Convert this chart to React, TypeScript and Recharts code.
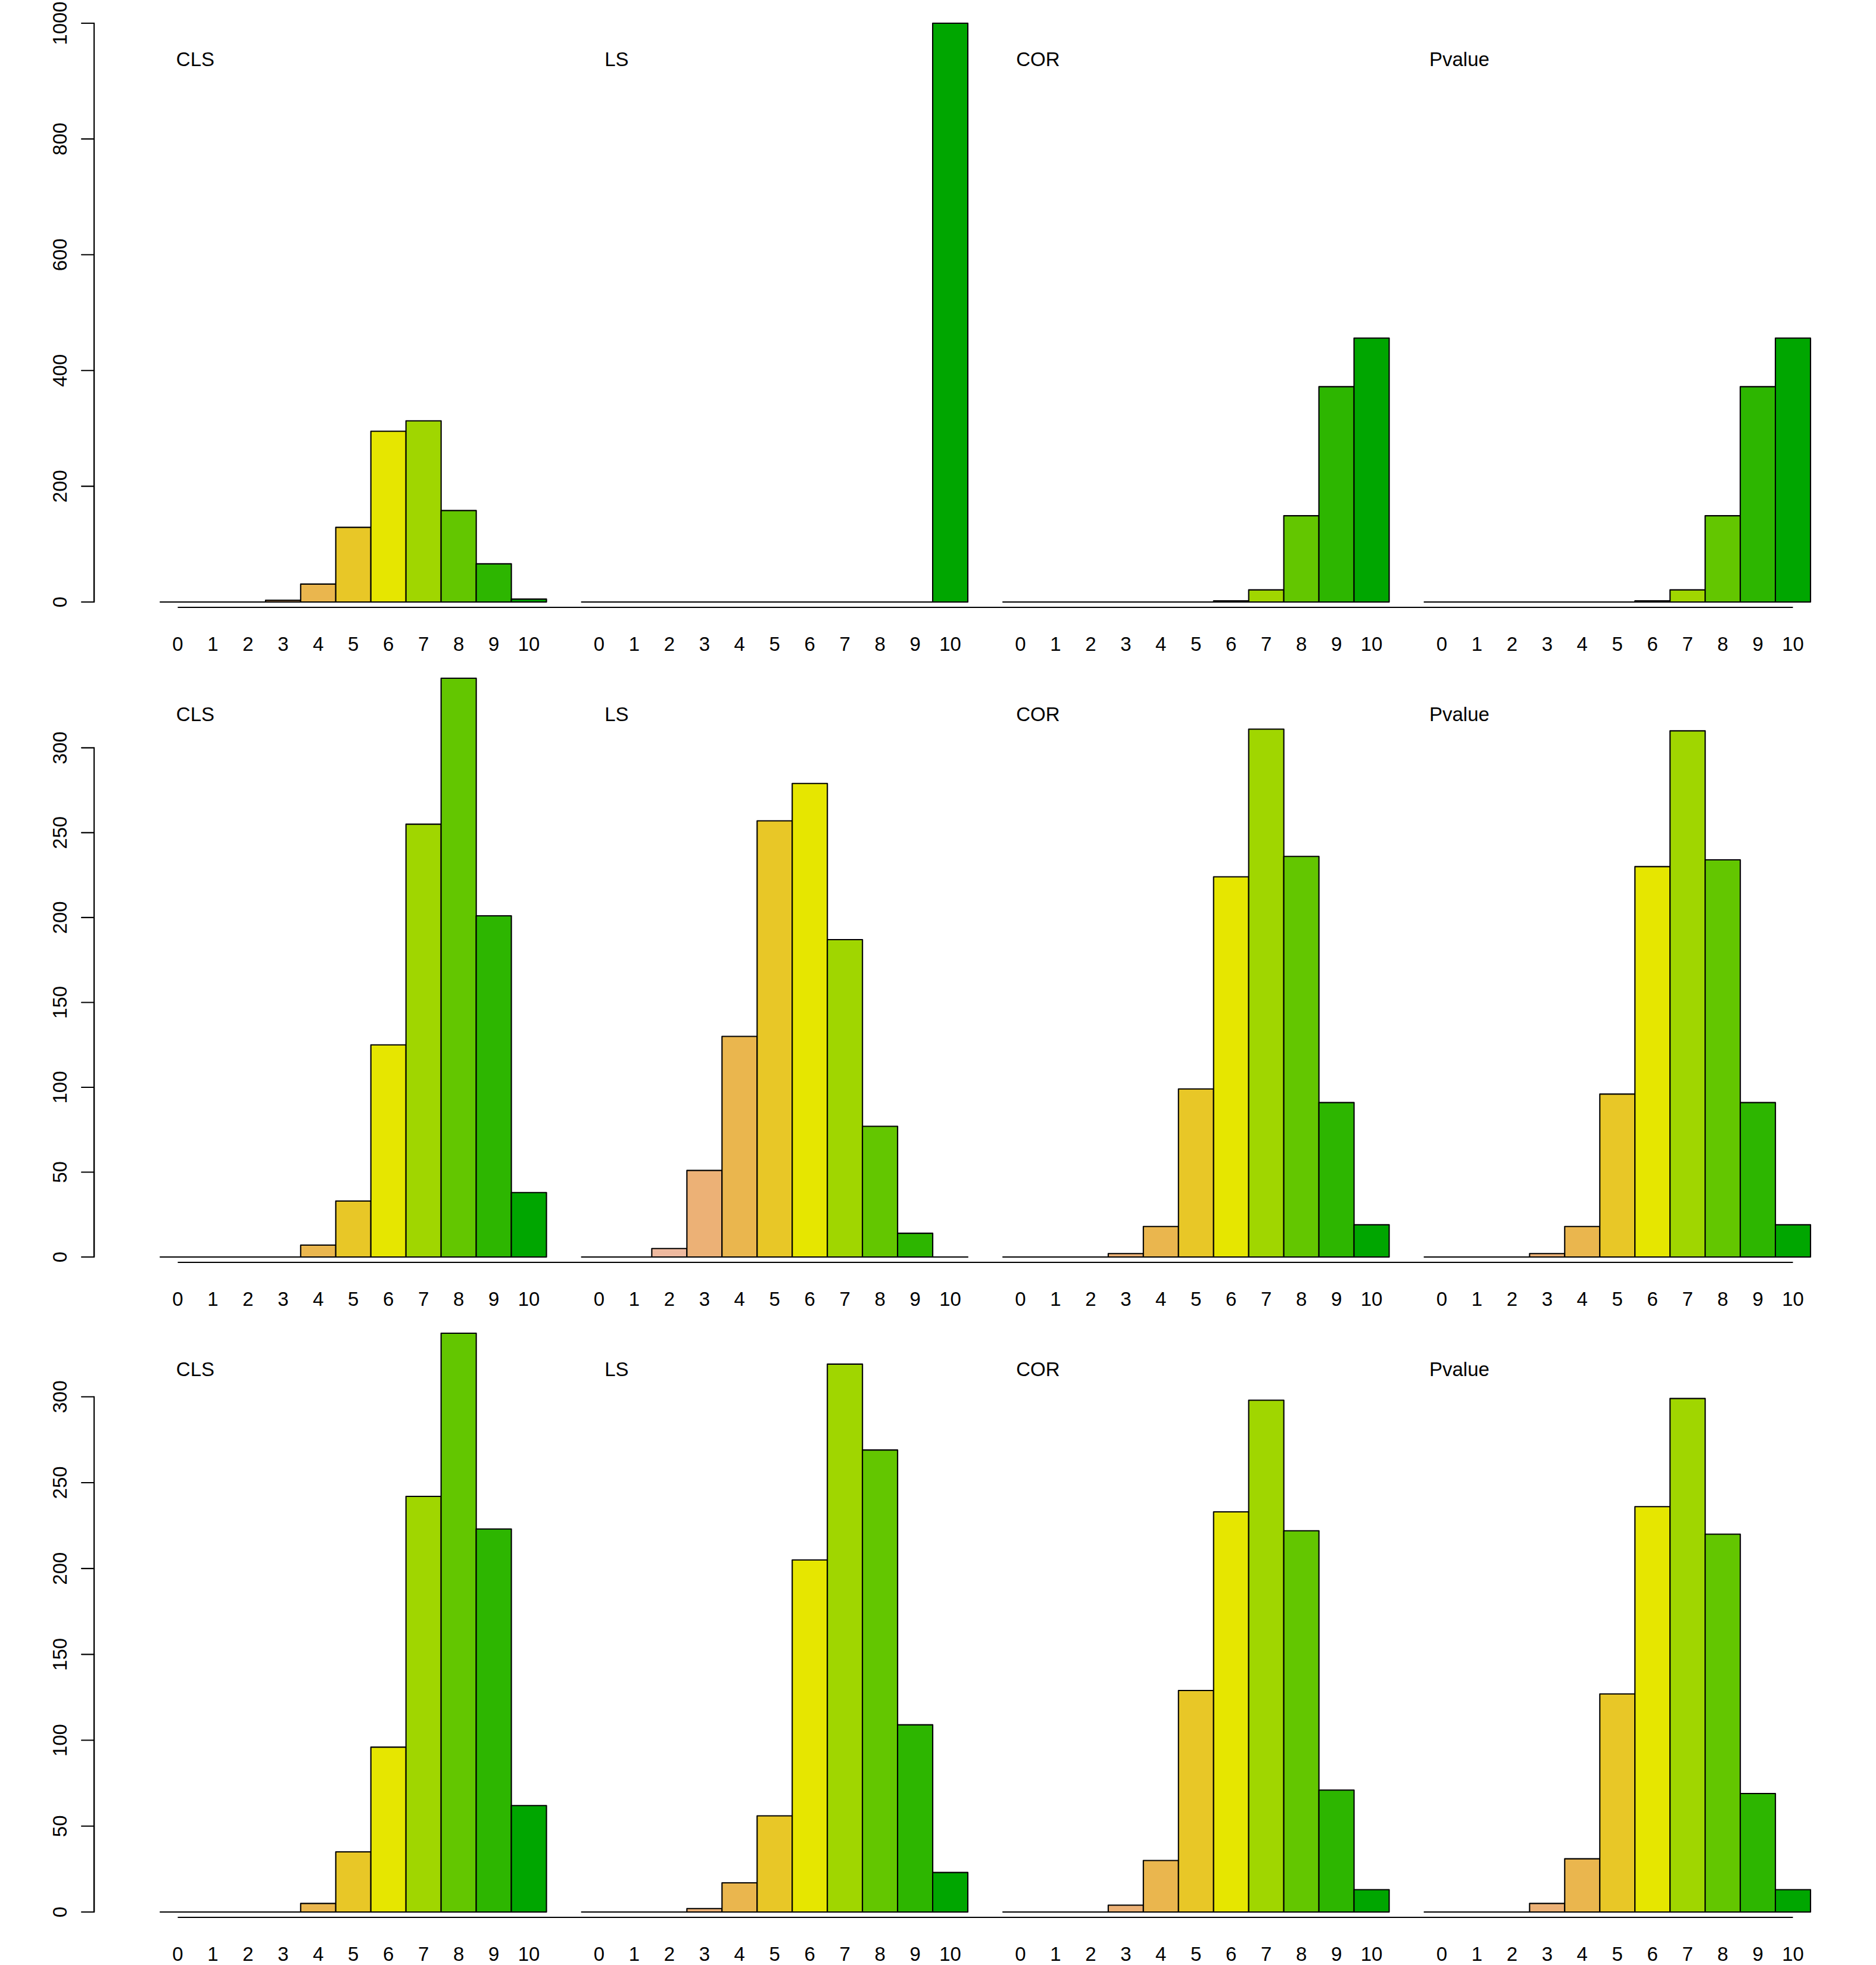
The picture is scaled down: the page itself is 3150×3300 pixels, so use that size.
import React from "react";
import { BarChart, Bar, XAxis, YAxis, ReferenceLine } from "recharts";

// ---------- data ----------
const SCORES = [0, 1, 2, 3, 4, 5, 6, 7, 8, 9, 10];
const PANELS = ["CLS", "LS", "COR", "Pvalue"];

const ROW1_CLS = [0, 0, 0, 3, 31, 129, 295, 313, 158, 66, 5];
const ROW1_LS = [0, 0, 0, 0, 0, 0, 0, 0, 0, 0, 1000];
const ROW1_COR = [0, 0, 0, 0, 0, 0, 2, 21, 149, 372, 456];
const ROW1_PVALUE = [0, 0, 0, 0, 0, 0, 2, 21, 149, 372, 456];

const ROW2_CLS = [0, 0, 0, 0, 7, 33, 125, 255, 341, 201, 38];
const ROW2_LS = [0, 0, 5, 51, 130, 257, 279, 187, 77, 14, 0];
const ROW2_COR = [0, 0, 0, 2, 18, 99, 224, 311, 236, 91, 19];
const ROW2_PVALUE = [0, 0, 0, 2, 18, 96, 230, 310, 234, 91, 19];

const ROW3_CLS = [0, 0, 0, 0, 5, 35, 96, 242, 337, 223, 62];
const ROW3_LS = [0, 0, 0, 2, 17, 56, 205, 319, 269, 109, 23];
const ROW3_COR = [0, 0, 0, 4, 30, 129, 233, 298, 222, 71, 13];
const ROW3_PVALUE = [0, 0, 0, 5, 31, 127, 236, 299, 220, 69, 13];

const ROW1_TICKS = [0, 200, 400, 600, 800, 1000];
const ROW2_TICKS = [0, 50, 100, 150, 200, 250, 300];
const ROW3_TICKS = [0, 50, 100, 150, 200, 250, 300];

// reversed terrain.colors(11): score 0 .. 10
const PALETTE = [
  "#F2F2F2", "#F0C9C0", "#EEB99F", "#ECB176", "#EAB64E", "#E8C727",
  "#E6E600", "#A0D600", "#63C600", "#2DB600", "#00A600",
];

const ROWS = [
  { panels: [ROW1_CLS, ROW1_LS, ROW1_COR, ROW1_PVALUE], ticks: ROW1_TICKS },
  { panels: [ROW2_CLS, ROW2_LS, ROW2_COR, ROW2_PVALUE], ticks: ROW2_TICKS },
  { panels: [ROW3_CLS, ROW3_LS, ROW3_COR, ROW3_PVALUE], ticks: ROW3_TICKS },
];

// ---------- layout ----------
const FIG_W = 3150;
const ROW_H = 1100;
const PLOT_TOP = 39;
const PLOT_BOTTOM = 1011;
const AXIS_X = 158;
const BAR_LEFT = 269;
const BAR_RIGHT = 3040;
const N_SLOTS = PANELS.length * SCORES.length + (PANELS.length - 1);
const SLOT = (BAR_RIGHT - BAR_LEFT) / N_SLOTS;
const LW = 2.1;
const FONT = "'Liberation Sans', Arial, Helvetica, sans-serif";
const FS = 33;

function buildRowData(panels: number[][]) {
  const out: any[] = [];
  panels.forEach((vals, p) => {
    SCORES.forEach((s, i) => {
      out.push({ id: `${p}-${s}`, score: s, value: vals[i], gap: false });
    });
    if (p < panels.length - 1) out.push({ id: `gap-${p}`, score: -1, value: null, gap: true });
  });
  return out;
}

function BarShape(props: any) {
  const { x, y, width, height, payload } = props;
  if (!payload || payload.gap || x == null || y == null || isNaN(y) || isNaN(height)) return <g />;
  const d = `M${x},${y}h${width}v${height}h${-width}Z`;
  return (
    <path
      d={d}
      fill={PALETTE[payload.score]}
      stroke="#000"
      strokeWidth={LW}
      strokeLinejoin="round"
      strokeLinecap="round"
    />
  );
}

function XTick(props: any) {
  const { x, y, payload } = props;
  const v = String(payload.value);
  if (v.startsWith("gap")) return <g />;
  const label = v.split("-")[1];
  return (
    <text x={x} y={y + 82} textAnchor="middle" fontSize={FS} fontFamily={FONT} fill="#000">
      {label}
    </text>
  );
}

function YTick(props: any) {
  const { x, y, payload } = props;
  return (
    <g>
      <line x1={x - 21} y1={y} x2={x} y2={y} stroke="#000" strokeWidth={LW} strokeLinecap="round" />
      <line x1={x} y1={y} x2={x} y2={PLOT_BOTTOM} stroke="#000" strokeWidth={LW} strokeLinecap="round" />
      <text
        x={x - 46}
        y={y}
        transform={`rotate(-90, ${x - 46}, ${y})`}
        textAnchor="middle"
        fontSize={FS}
        fontFamily={FONT}
        fill="#000"
      >
        {payload.value}
      </text>
    </g>
  );
}

function Row({ rowIndex }: { rowIndex: number }) {
  const row = ROWS[rowIndex];
  const data = buildRowData(row.panels);
  const max = Math.max(...row.panels.flat());
  const axisLineY = (-9 * max) / (PLOT_BOTTOM - PLOT_TOP);
  const lastPanel = PANELS.length - 1;
  return (
    <BarChart
      width={FIG_W}
      height={ROW_H}
      data={data}
      barCategoryGap={0}
      barGap={0}
      margin={{ top: PLOT_TOP, right: FIG_W - BAR_RIGHT, bottom: 0, left: 8 }}
    >
      <XAxis
        dataKey="id"
        type="category"
        interval={0}
        padding={{ left: BAR_LEFT - AXIS_X, right: 0 }}
        axisLine={false}
        tickLine={false}
        tickSize={0}
        tickMargin={0}
        height={ROW_H - PLOT_BOTTOM}
        tick={<XTick />}
      />
      <YAxis
        type="number"
        domain={[0, "dataMax"]}
        ticks={row.ticks}
        interval={0}
        width={AXIS_X - 8}
        axisLine={false}
        tickLine={false}
        tickSize={0}
        tickMargin={0}
        tick={<YTick />}
      />
      <ReferenceLine
        segment={[
          { x: "0-0", y: axisLineY },
          { x: `${lastPanel}-10`, y: axisLineY },
        ]}
        stroke="#000"
        strokeWidth={LW}
        ifOverflow="visible"
      />
      <Bar dataKey="value" isAnimationActive={false} shape={<BarShape />} />
    </BarChart>
  );
}

export default function App() {
  return (
    <div
      style={{
        position: "absolute",
        left: 0,
        top: 0,
        width: FIG_W,
        height: ROW_H * ROWS.length,
        background: "#fff",
      }}
    >
      {ROWS.map((_, r) => (
        <div key={r} style={{ position: "absolute", left: 0, top: r * ROW_H, width: FIG_W, height: ROW_H }}>
          <Row rowIndex={r} />
        </div>
      ))}
      <svg
        width={FIG_W}
        height={ROW_H * ROWS.length}
        style={{ position: "absolute", left: 0, top: 0, pointerEvents: "none" }}
      >
        {ROWS.map((_, r) =>
          PANELS.map((name, p) => (
            <text
              key={`${r}-${p}`}
              x={BAR_LEFT + SLOT * (p * (SCORES.length + 1) + 1)}
              y={r * ROW_H + 111}
              textAnchor="middle"
              fontSize={FS}
              fontFamily={FONT}
              fill="#000"
            >
              {name}
            </text>
          ))
        )}
      </svg>
    </div>
  );
}
